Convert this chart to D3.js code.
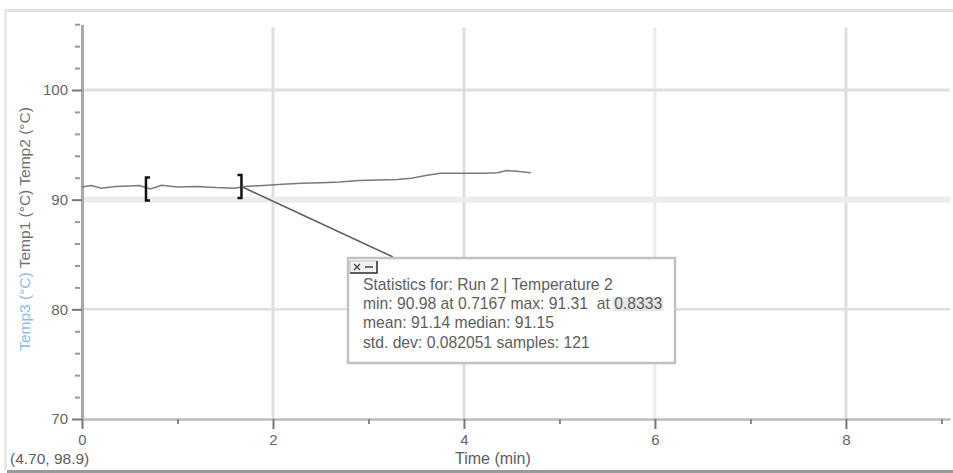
<!DOCTYPE html>
<html>
<head>
<meta charset="utf-8">
<script src="https://cdn.jsdelivr.net/npm/d3@7"></script>
<style>
  body { margin: 0; background: #fff; }
  svg { display: block; font-family: "Liberation Sans", Arial, sans-serif; }
  .stats text { white-space: pre; }
</style>
</head>
<body>
<svg class="canvas" width="953" height="473"></svg>
<script>
// data
const times = [0, 0.1, 0.2, 0.35, 0.5, 0.6, 0.7167, 0.8333, 1.0, 1.2, 1.4, 1.6, 1.7, 1.9, 2.1, 2.3, 2.5, 2.7, 2.9, 3.1, 3.3, 3.45, 3.6, 3.75, 4.0, 4.2, 4.35, 4.45, 4.55, 4.7];
const temps = [91.15, 91.3, 91.05, 91.2, 91.25, 91.3, 90.98, 91.31, 91.15, 91.2, 91.1, 91.05, 91.2, 91.3, 91.4, 91.5, 91.55, 91.6, 91.75, 91.8, 91.85, 91.95, 92.2, 92.4, 92.4, 92.4, 92.45, 92.65, 92.6, 92.45];
const xTicks = [0, 2, 4, 6, 8];
const xMinor = [1, 3, 5, 7, 9];
const yTicks = [70, 80, 90, 100];
const yMinor = [72, 74, 76, 78, 82, 84, 86, 88, 92, 94, 96, 98, 102, 104, 106];
const bracketRange = [0.67, 1.67];
const statsLines = [
  'Statistics for: Run 2 | Temperature 2',
  'min: 90.98 at 0.7167 max: 91.31  at 0.8333',
  'mean: 91.14 median: 91.15',
  'std. dev: 0.082051 samples: 121'
];
const yTitle = [
  { text: 'Temp3 (°C)', color: '#8cbbe9' },
  { text: ' Temp1 (°C) Temp2 (°C)', color: '#707070' }
];
const cursorLabel = '(4.70, 98.9)';
const xTitle = 'Time (min)';

const svg = d3.select('.canvas');
const W = 953, H = 473;

// frame
svg.append('rect').attr('width', W).attr('height', H).attr('fill', '#fff');
svg.append('line').attr('x1', 5).attr('x2', W).attr('y1', 10.5).attr('y2', 10.5)
  .attr('stroke', '#e2e2e2').attr('stroke-width', 3);
svg.append('line').attr('x1', 5.5).attr('x2', 5.5).attr('y1', 10).attr('y2', 470)
  .attr('stroke', '#e8e8e8').attr('stroke-width', 3);
svg.append('line').attr('x1', 7).attr('x2', W).attr('y1', 471.5).attr('y2', 471.5)
  .attr('stroke', '#999').attr('stroke-width', 3);

// scales
const x = d3.scaleLinear().domain([0, 9.09]).range([82, 950]);
const y = d3.scaleLinear().domain([70, 106]).range([419, 24.2]);

// grid
svg.append('g').selectAll('line').data(xTicks.slice(1)).enter().append('line')
  .attr('x1', (d) => x(d)).attr('x2', (d) => x(d))
  .attr('y1', y(105.7)).attr('y2', y(70))
  .attr('stroke', (d) => (d === 6 ? '#ebebeb' : '#dedede'))
  .attr('stroke-width', 3);
svg.append('g').selectAll('line').data(yTicks.slice(1)).enter().append('line')
  .attr('x1', x(0)).attr('x2', x.range()[1])
  .attr('y1', (d) => y(d)).attr('y2', (d) => y(d))
  .attr('stroke', (d) => (d === 90 ? '#ececec' : '#dfdfdf'))
  .attr('stroke-width', (d) => (d === 90 ? 6 : d === 100 ? 3 : 2.5));

// axes
const styleAxis = (g, domainColor, domainWidth) => {
  g.select('.domain').attr('stroke', domainColor).attr('stroke-width', domainWidth);
  g.selectAll('.tick line').attr('stroke', '#777').attr('stroke-width', 2);
  g.selectAll('.tick text').attr('fill', '#666').style('font-size', '15px');
};
const yAxis = svg.append('g').attr('transform', `translate(${x(0)},0)`)
  .call(d3.axisLeft(y).tickValues(yTicks).tickSize(10).tickSizeOuter(0).tickPadding(4));
styleAxis(yAxis, '#a9a9a9', 3);
const yMinorAxis = svg.append('g').attr('transform', `translate(${x(0) - 2},0)`)
  .call(d3.axisLeft(y).tickValues(yMinor).tickSize(5).tickFormat(''));
yMinorAxis.select('.domain').remove();
yMinorAxis.selectAll('.tick line').attr('stroke', '#999').attr('stroke-width', 2);

const xAxis = svg.append('g').attr('transform', `translate(0,${y(70)})`)
  .call(d3.axisBottom(x).tickValues(xTicks).tickSize(10).tickSizeOuter(0).tickPadding(5));
styleAxis(xAxis, '#bdbdbd', 2.5);
const xMinorAxis = svg.append('g').attr('transform', `translate(0,${y(70)})`)
  .call(d3.axisBottom(x).tickValues(xMinor).tickSize(5).tickFormat(''));
xMinorAxis.select('.domain').remove();
xMinorAxis.selectAll('.tick line').attr('stroke', '#888').attr('stroke-width', 2);

// axis titles
const yt = svg.append('text')
  .attr('transform', `translate(30, 229) rotate(-90)`)
  .attr('text-anchor', 'middle')
  .style('font-size', '15.5px');
yTitle.forEach((p) => yt.append('tspan').attr('fill', p.color).text(p.text));
svg.append('text').attr('x', 455).attr('y', 464).attr('fill', '#5e5e5e')
  .style('font-size', '16px').text(xTitle);
svg.append('text').attr('x', 10).attr('y', 464).attr('fill', '#5e5e5e')
  .style('font-size', '15.5px').text(cursorLabel);

// data line
const pts = times.map((t, i) => [t, temps[i]]);
svg.append('path').datum(pts)
  .attr('fill', 'none').attr('stroke', '#7a7a7a').attr('stroke-width', 1.5)
  .attr('d', d3.line().x((d) => x(d[0])).y((d) => y(d[1])));

// selection brackets
const valueAt = (t) => {
  const i = d3.bisectLeft(times, t);
  return temps[Math.min(i, temps.length - 1)];
};
bracketRange.forEach((t, i) => {
  const bx = x(t);
  const by = y(valueAt(t));
  const dir = i === 0 ? 1 : -1;
  svg.append('path')
    .attr('d', `M${bx + dir * 4},${by - 11.5} H${bx} V${by + 11.5} H${bx + dir * 4}`)
    .attr('fill', 'none').attr('stroke', '#111').attr('stroke-width', 2.5);
});

// stats box
const box = { x: 348, y: 258, w: 327, h: 105 };
const endT = bracketRange[1];
svg.append('line')
  .attr('x1', x(endT)).attr('y1', y(valueAt(endT)))
  .attr('x2', box.x + 45).attr('y2', box.y - 1)
  .attr('stroke', '#5e5e5e').attr('stroke-width', 1.6);
svg.append('rect').attr('x', box.x).attr('y', box.y).attr('width', box.w).attr('height', box.h)
  .attr('fill', '#fff').attr('stroke', '#c2c2c2').attr('stroke-width', 2.5);

const btn = svg.append('g');
btn.append('rect').attr('x', box.x + 2).attr('y', box.y + 3).attr('width', 27).attr('height', 12)
  .attr('fill', '#f2f2f2').attr('stroke', '#bbb');
btn.append('path')
  .attr('d', `M${box.x + 2},${box.y + 15} H${box.x + 29} V${box.y + 3}`)
  .attr('fill', 'none').attr('stroke', '#333').attr('stroke-width', 1.5);
btn.append('path')
  .attr('d', `M${box.x + 6},${box.y + 6} l6,6 M${box.x + 12},${box.y + 6} l-6,6 M${box.x + 17},${box.y + 9} h8`)
  .attr('stroke', '#444').attr('stroke-width', 1.3);

const lineH = 19.2;
const statsText = svg.append('g').attr('class', 'stats')
  .style('font-size', '15.7px').attr('fill', '#5e5e5e');
statsLines.forEach((s, i) => {
  statsText.append('text').attr('x', box.x + 15).attr('y', box.y + 32 + i * lineH).text(s);
});
// highlighted last value of line two
const second = statsText.selectAll('text').nodes()[1];
const idx = statsLines[1].lastIndexOf('0.8333');
const hx = second.getSubStringLength(0, idx);
const hw = second.getSubStringLength(idx, 6);
statsText.insert('rect', ':first-child')
  .attr('x', box.x + 15 + hx - 1).attr('y', box.y + 32 + lineH - 12)
  .attr('width', hw + 2).attr('height', 14).attr('fill', '#e6e6e6');
</script>
</body>
</html>
